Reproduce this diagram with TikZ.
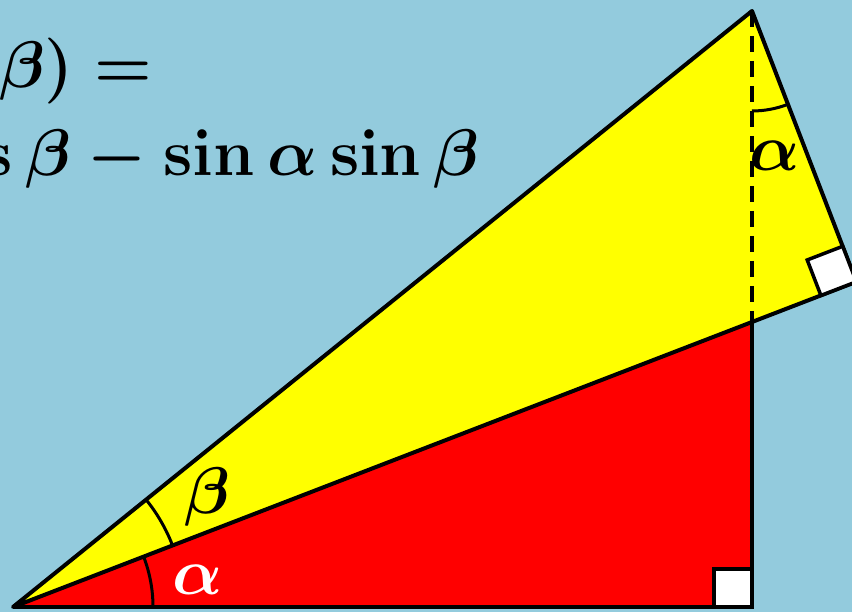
\documentclass[tikz,border=0pt]{standalone}
\usetikzlibrary{calc,angles}
\definecolor{bgblue}{RGB}{147,203,221}
\definecolor{tyellow}{RGB}{255,255,0}
\definecolor{tred}{RGB}{255,0,0}
\tikzset{
  edge/.style={draw=black, line width=4pt, line join=round},
  rightsq/.style={fill=white, draw=black, line width=3.5pt},
  anglemark/.style={draw=black, line width=3pt},
  bigmath/.style={font=\Huge\boldmath, inner sep=0pt, scale=2.65, transform shape},
}
\begin{document}
\begin{tikzpicture}[x=1pt,y=1pt]
\useasboundingbox (0,0) rectangle (852,612);
\clip (0,0) rectangle (852,612);
\fill[bgblue] (0,0) rectangle (852,612);
% points
\coordinate (O) at (13,5);
\coordinate (B) at (752,5);
\coordinate (C) at (752,290);
\coordinate (E) at (752,601);
\coordinate (D) at ($(O)!(E)!(C)$);
% fills
\fill[tyellow] (O) -- (D) -- (E) -- cycle;
\fill[tred] (O) -- (B) -- (C) -- cycle;
% dashed height
\draw[black, line width=3.5pt, dash pattern=on 16pt off 9pt] (E) -- (C);
% outlines
\draw[edge] (O) -- (B) -- (C);
\draw[edge] (O) -- (D) -- (E) -- cycle;
% right angle squares
\draw[rightsq] (B) rectangle ++(-38,38);
\coordinate (P1) at ($(D)!38pt!(O)$);
\coordinate (P3) at ($(D)!38pt!(E)$);
\coordinate (P2) at ($(P1)+(P3)-(D)$);
\draw[rightsq] (D) -- (P1) -- (P2) -- (P3) -- cycle;
% angle marks
\pic[anglemark, angle radius=140pt] {angle=B--O--C};
\pic[anglemark, angle radius=171pt] {angle=C--O--E};
\pic[anglemark, angle radius=100pt] {angle=C--E--D};
% labels
\node[bigmath, text=white] (la) at (198,32) {$\alpha$};
\node[bigmath] (lb) at (207,115) {$\beta$};
\node[bigmath] (lt) at (775,456) {$\alpha$};
% formula
\node[bigmath, anchor=base east] (f1) at (153,524) {$\cos(\alpha+\beta) =$};
\node[bigmath, anchor=base east] (f2) at (480,436) {$\cos\alpha\cos\beta-\sin\alpha\sin\beta$};
\end{tikzpicture}
\end{document}
